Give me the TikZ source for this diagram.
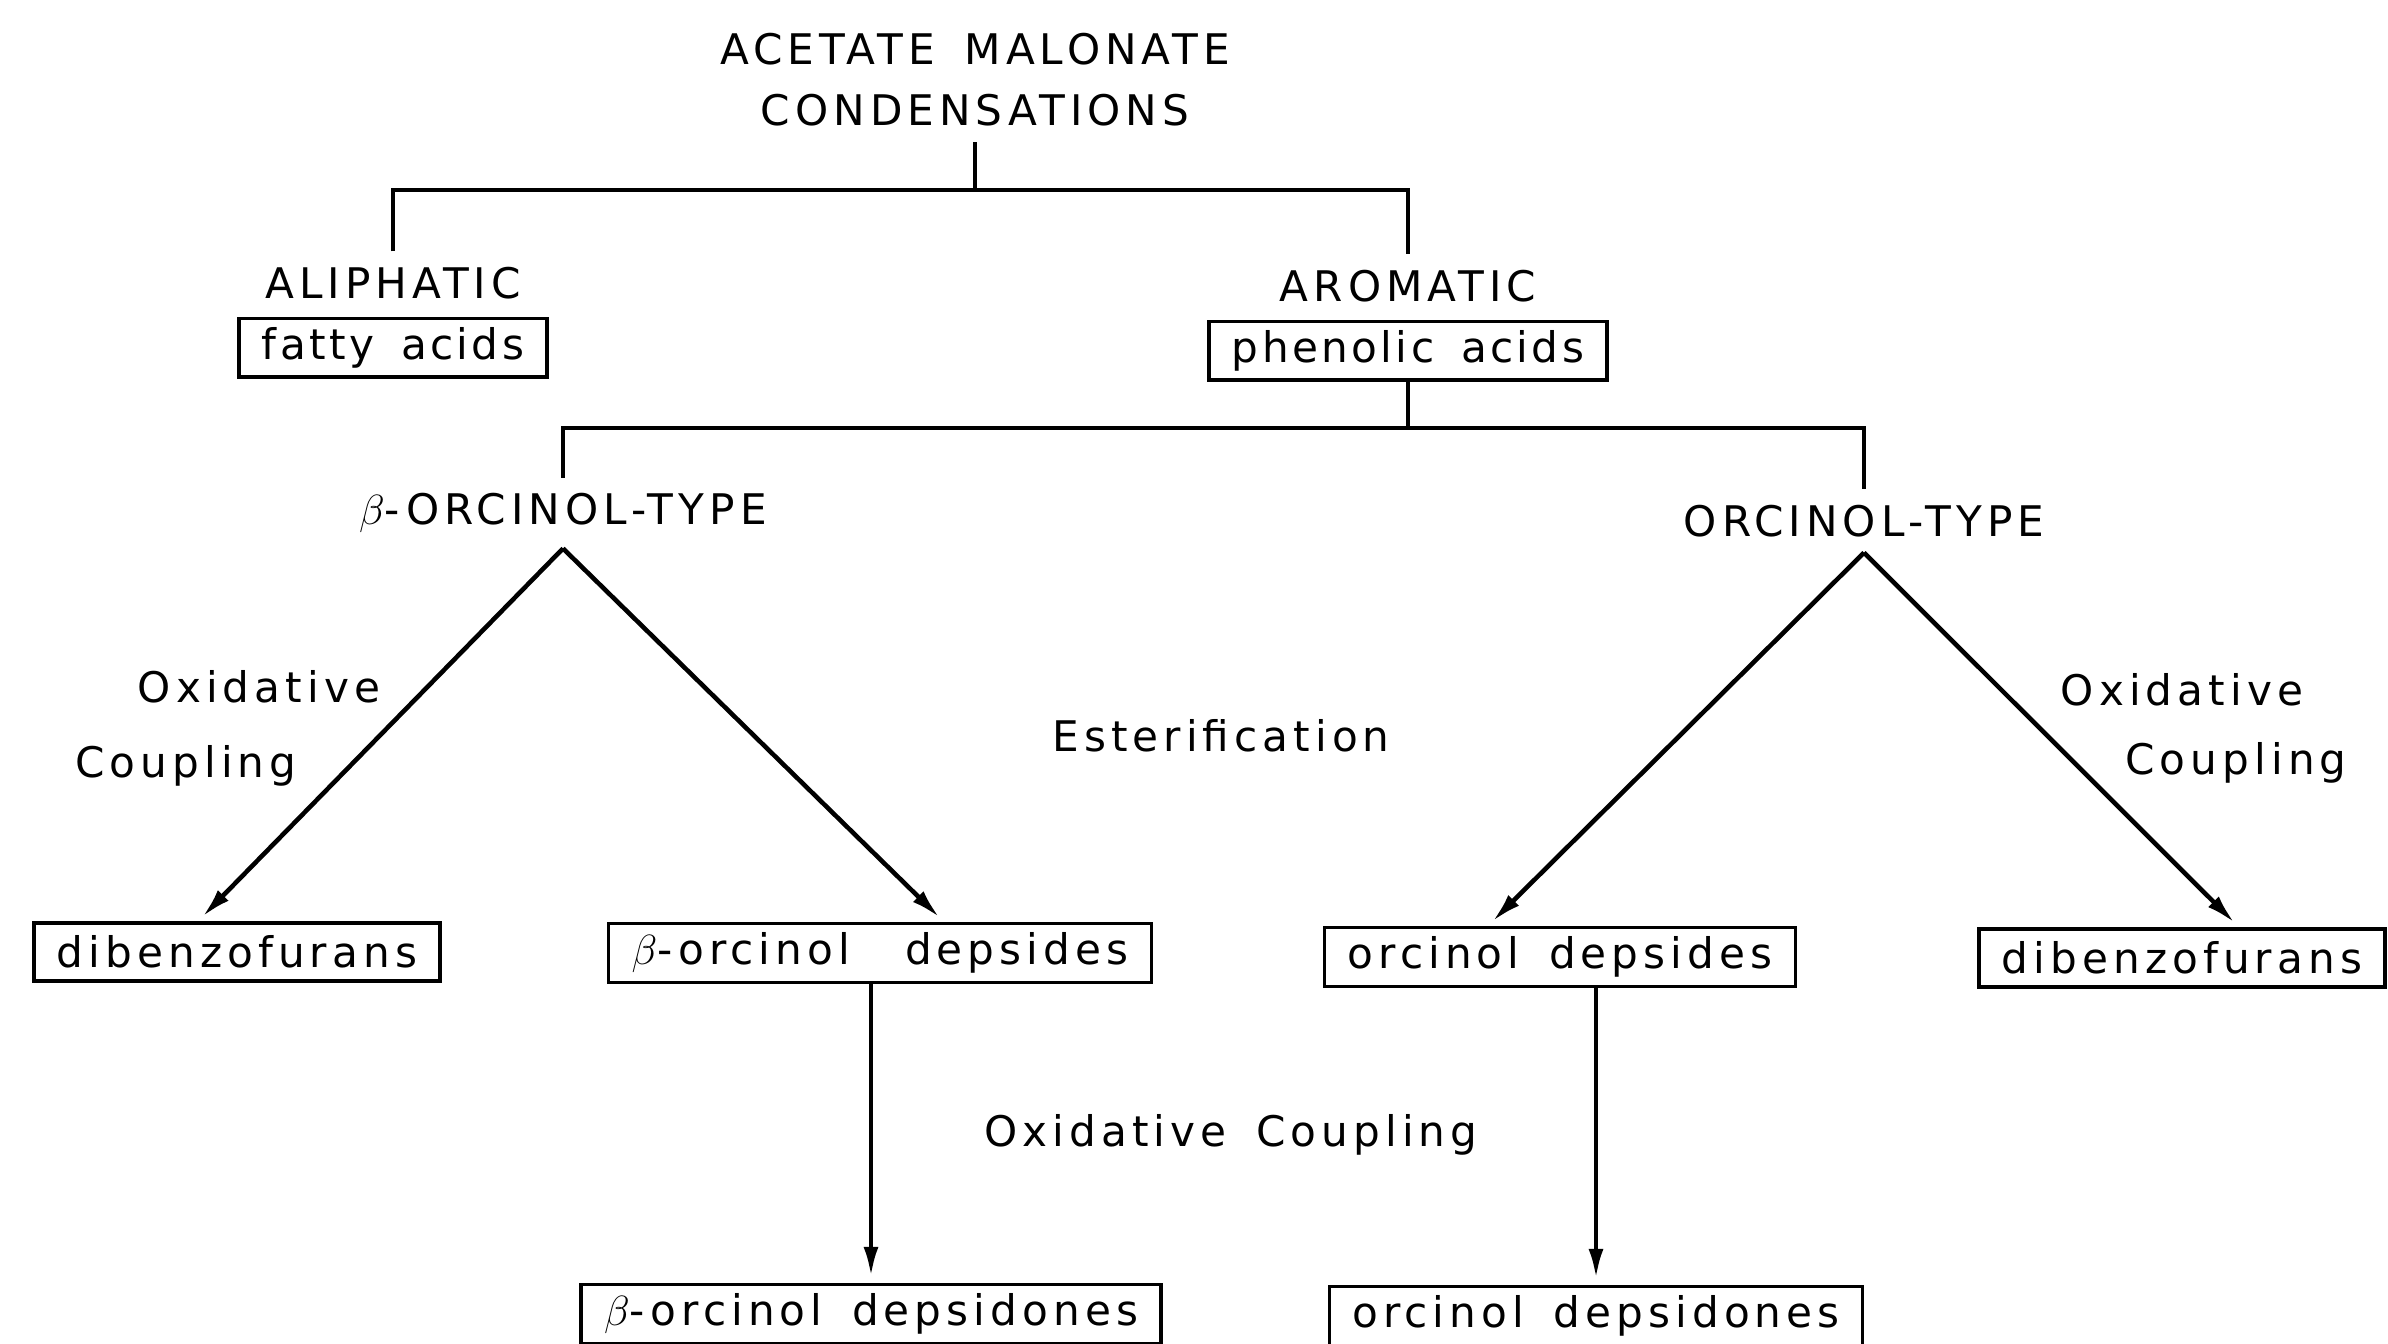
\documentclass[tikz,border=0pt]{standalone}
\usepackage{fontspec}
\setmainfont{DejaVu Sans}[LetterSpace=12, WordSpace=1.6]
\usetikzlibrary{arrows.meta}
\usetikzlibrary{positioning}
\tikzset{
  lab/.style = {inner sep = 1.5mm, font = \fontsize{12}{14}\selectfont},
  prod/.style = {lab, draw, line width = 1pt, minimum height = 5.8mm, inner xsep = 2.3mm, inner ysep = 0.9mm},
  link/.style = {line width = 1.3pt},
  arr/.style = {link, -{Latex[length = 3mm, width = 1.5mm]}, shorten > = 0.6mm}
}

\begin{document}
\begin{tikzpicture}[x = 0.1mm, y = -0.1mm]
  \useasboundingbox (0, 0) rectangle (2388, 1343);
  % nodes
  \node [lab, align = center, font = \fontsize{12}{17.4}\selectfont] (title) at (975, 80) {ACETATE MALONATE\\CONDENSATIONS};
  \node [lab] (aliph) at (393, 283) {ALIPHATIC};
  \node [prod, below = 0.2mm of aliph] (fatty) {\addfontfeature{LetterSpace=8}fatty acids};
  \node [lab] (arom) at (1408, 286) {AROMATIC};
  \node [prod, below = 0.2mm of arom] (phen) {\addfontfeature{LetterSpace=8}phenolic acids};
  \node [lab] (bortype) at (563, 513) {$\beta$-ORCINOL-TYPE};
  \node [lab] (ortype) at (1864, 521) {ORCINOL-TYPE};
  \node [prod] (dibl) at (237, 952) {dibenzofurans};
  \node [prod] (bdeps) at (880, 953) {$\beta$-orcinol\hspace{5.5mm}depsides};
  \node [prod] (odeps) at (1560, 957) {orcinol depsides};
  \node [prod] (dibr) at (2182, 958) {dibenzofurans};
  \node [prod] (bdepsd) at (871, 1314) {$\beta$-orcinol depsidones};
  \node [prod] (odepsd) at (1596, 1316) {orcinol depsidones};
  % labels
  \node [lab] (oxl) at (259, 687) {Oxidative};
  \node [lab] (cpl) at (186, 766) {Coupling};
  \node [lab] (ester) at (1221, 736) {Esterification};
  \node [lab] (oxc) at (1231, 1135) {Oxidative Coupling};
  \node [lab] (oxr) at (2182, 690) {Oxidative};
  \node [lab] (cpr) at (2236, 763) {Coupling};
  % paths
  \coordinate (j1) at (975, 190);
  \coordinate (j2) at (1408, 428);
  \draw [link] (title) -- (j1);
  \draw [link] (aliph) |- (j1) -| (arom);
  \draw [link] (phen) -- (j2);
  \draw [link] (bortype) |- (j2) -| (ortype);
  \draw [arr] (bortype.south) -- ([xshift = -3.9mm] dibl.north);
  \draw [arr] (bortype.south) -- ([xshift = 6.4mm] bdeps.north);
  \draw [arr] (ortype.south) -- ([xshift = -7.2mm] odeps.north);
  \draw [arr] (ortype.south) -- ([xshift = 5.7mm] dibr.north);
  \draw [arr] (bdeps.south -| bdepsd.north) -- (bdepsd.north);
  \draw [arr] (odeps.south -| odepsd.north) -- (odepsd.north);
\end{tikzpicture}
\end{document}
